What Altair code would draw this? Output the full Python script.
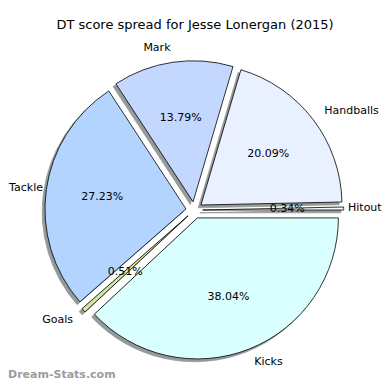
import altair as alt
import pandas as pd

# Data (ordered clockwise from 3 o'clock going down, as drawn)
categories = ["Kicks", "Goals", "Tackle", "Mark", "Handballs", "Hitout"]
values = [38.04, 0.51, 27.23, 13.79, 20.09, 0.34]
colors = ["#d9ffff", "#d4e6a0", "#b3d4ff", "#c4d8ff", "#e9f0ff", "#f6f8ff"]
title_text = "DT score spread for Jesse Lonergan (2015)"
watermark = "Dream-Stats.com"

df = pd.DataFrame({"cat": categories, "value": values, "order": list(range(len(categories)))})

W = 374
H = 374
CX = 186.3   # pie centre (chart px)
CY = 202.1
R = 141      # radius
E = 8.4      # explode distance
SH = 2.8     # shadow offset

base = (
    alt.Chart(df)
    .transform_window(cum="sum(value)", sort=[alt.SortField("order")], frame=[None, 0])
    .transform_joinaggregate(total="sum(value)")
    .transform_calculate(
        a0="PI/2 + 2*PI*(datum.cum - datum.value)/datum.total",
        a1="PI/2 + 2*PI*datum.cum/datum.total",
    )
    .transform_calculate(mid="(datum.a0 + datum.a1)/2")
    .transform_calculate(
        cx=f"{CX} + {E}*sin(datum.mid)",
        cy=f"{CY} - {E}*cos(datum.mid)",
        lx=f"{CX} + ({E} + 1.1*{R})*sin(datum.mid)",
        ly=f"{CY} - ({E} + 1.1*{R})*cos(datum.mid)",
        px=f"{CX} + ({E} + 0.6*{R})*sin(datum.mid)",
        py=f"{CY} - ({E} + 0.6*{R})*cos(datum.mid)",
        pct="format(datum.value, '.2f') + '%'",
    )
    .transform_calculate(
        sx=f"datum.cx - {SH}",
        sy=f"datum.cy + {SH}",
        lxl="max(datum.lx, 35)",
        lxr=f"min(datum.lx, {W} - 34)",
    )
)

shadow = base.mark_arc(outerRadius=R, fill="#959999", stroke="#959999", strokeWidth=0.8).encode(
    theta=alt.Theta("a0:Q", scale=None, stack=None),
    theta2="a1:Q",
    x=alt.X("sx:Q", scale=None),
    y=alt.Y("sy:Q", scale=None),
)

wedges = base.mark_arc(outerRadius=R, stroke="black", strokeWidth=0.8).encode(
    theta=alt.Theta("a0:Q", scale=None, stack=None),
    theta2="a1:Q",
    x=alt.X("cx:Q", scale=None),
    y=alt.Y("cy:Q", scale=None),
    color=alt.Color("cat:N", scale=alt.Scale(domain=categories, range=colors), legend=None),
)

lab_right = base.transform_filter("sin(datum.mid) > 0").mark_text(
    align="left", baseline="middle", font="DejaVu Sans", fontSize=11, color="black"
).encode(x=alt.X("lxr:Q", scale=None), y=alt.Y("ly:Q", scale=None), text="cat:N")

lab_left = base.transform_filter("sin(datum.mid) <= 0").mark_text(
    align="right", baseline="middle", font="DejaVu Sans", fontSize=11, color="black"
).encode(x=alt.X("lxl:Q", scale=None), y=alt.Y("ly:Q", scale=None), text="cat:N")

pcts = base.mark_text(
    align="center", baseline="middle", font="DejaVu Sans", fontSize=11, color="black"
).encode(x=alt.X("px:Q", scale=None), y=alt.Y("py:Q", scale=None), text="pct:N")

tdf = pd.DataFrame({"t": [title_text]})
title = alt.Chart(tdf).mark_text(
    align="center", baseline="middle", font="DejaVu Sans", fontSize=13, color="black"
).encode(x=alt.value(187), y=alt.value(17), text="t:N")

wdf = pd.DataFrame({"t": [watermark]})
wm = alt.Chart(wdf).mark_text(
    align="left", baseline="middle", font="DejaVu Sans", fontSize=11, fontWeight="bold", color="#9c9c9c"
).encode(x=alt.value(0), y=alt.value(367), text="t:N")

chart = (
    alt.layer(shadow, wedges, lab_right, lab_left, pcts, title, wm)
    .properties(width=W, height=H, autosize=alt.AutoSizeParams(type="none"), padding=0)
    .configure_view(stroke=None)
)

chart.save("out.html", embed_options={"renderer": "svg", "actions": False})
